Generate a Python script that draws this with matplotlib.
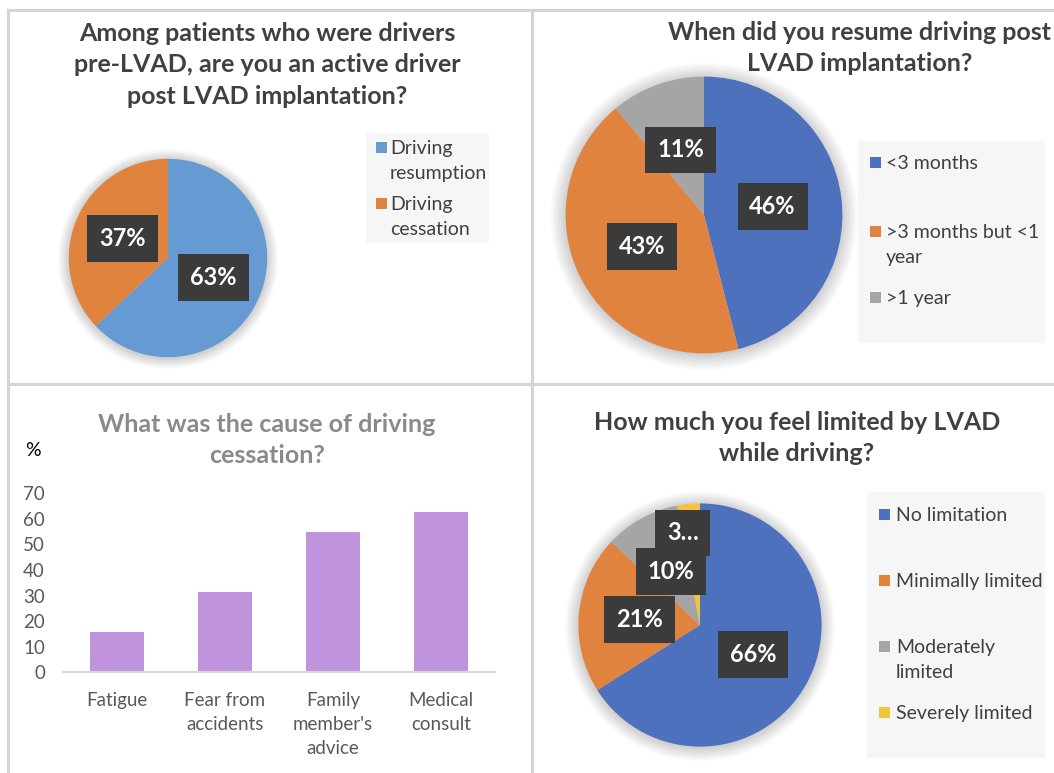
import numpy as np
import matplotlib
matplotlib.use("Agg")
import matplotlib.pyplot as plt
from matplotlib.patches import Rectangle, Circle
from matplotlib.lines import Line2D

plt.rcParams['font.family'] = ['Lato', 'DejaVu Sans']

W, H = 1054, 773

# panel 1: driving after LVAD
drive_labels = ['Driving\nresumption', 'Driving\ncessation']
drive_values = [63, 37]
drive_colors = ['#659AD2', '#E0833F']

# panel 2: when driving resumed
resume_labels = ['<3 months', '>3 months but <1\nyear', '>1 year']
resume_values = [46, 43, 11]
resume_colors = ['#4E71BD', '#E0833F', '#A5A5A5']

# panel 3: cause of cessation (%)
cause_labels = ['Fatigue', 'Fear from\naccidents', "Family\nmember's\nadvice", 'Medical\nconsult']
cause_values = [15.6, 31.3, 54.7, 62.5]

# panel 4: limitation while driving
limit_labels = ['No limitation', 'Minimally limited', 'Moderately\nlimited', 'Severely limited']
limit_values = [66, 21, 10, 3]
limit_colors = ['#4E71BD', '#E0833F', '#A5A5A5', '#F4C33C']

TITLE_C = '#404040'
TEXT_C = '#595959'


def rect(x0, y0, x1, y1):
    return [x0 / W, 1 - y1 / H, (x1 - x0) / W, (y1 - y0) / H]


def fx(x):
    return x / W


def fy(y):
    return 1 - y / H


fig = plt.figure(figsize=(W / 100, H / 100), dpi=100)

# panel frame lines
for (x0, y0, x1, y1) in [(8, 10, 1054, 10), (8, 10, 8, 773), (532, 10, 532, 773), (8, 384, 1054, 384)]:
    fig.add_artist(Line2D([fx(x0), fx(x1)], [fy(y0), fy(y1)], color='#D4D4D4', lw=2.2))


def pie_panel(cx, cy, r, values, colors, small_label=None):
    ax = fig.add_axes(rect(cx - r - 30, cy - r - 30, cx + r + 30, cy + r + 30))
    lim = 1 + 30 / r
    ax.set_xlim(-lim, lim)
    ax.set_ylim(-lim, lim)
    ax.set_aspect('equal')
    ax.axis('off')
    # soft shadow
    for i in range(10):
        ax.add_patch(Circle((0, -0.01), 1 + 0.012 * i, color='#000000', alpha=0.018, lw=0, zorder=0))
    wedges, _, autotexts = ax.pie(values, colors=colors, startangle=90, counterclock=False,
                                  autopct=lambda p: f'{p:.0f}%', pctdistance=0.5,
                                  wedgeprops=dict(linewidth=0),
                                  textprops=dict(color='white', fontsize=17, fontweight='bold'))
    for t in autotexts:
        t.set_bbox(dict(boxstyle='square,pad=0.5', facecolor='#3B3B3B', edgecolor='none'))
    if small_label is not None:
        idx, txt, dist = small_label
        w = wedges[idx]
        ang = np.deg2rad((w.theta1 + w.theta2) / 2)
        autotexts[idx].set_position((dist * np.cos(ang) - 0.07, dist * np.sin(ang)))
        autotexts[idx].set_text(txt)
    return ax


def legend_box(x0, y0, x1, y1, labels, colors, ys, mx, tx):
    fig.add_artist(Rectangle((fx(x0), fy(y1)), (x1 - x0) / W, (y1 - y0) / H,
                             transform=fig.transFigure, facecolor='#F6F6F6', edgecolor='none'))
    for lab, col, y in zip(labels, colors, ys):
        fig.add_artist(Rectangle((fx(mx), fy(y + 5)), 11 / W, 11 / H, transform=fig.transFigure,
                                 facecolor=col, edgecolor='none'))
        fig.text(fx(tx), fy(y - 8), lab, ha='left', va='top', fontsize=14,
                 color=TITLE_C, linespacing=1.6)


# ---- panel 1
fig.text(fx(267), fy(65), 'Among patients who were drivers\npre-LVAD, are you an active driver\npost LVAD implantation?',
         ha='center', va='center', fontsize=18, fontweight='bold', color=TITLE_C, linespacing=1.45)
pie_panel(168, 258, 94, drive_values, drive_colors)
legend_box(366, 133, 489, 243, drive_labels, drive_colors, [148, 204], 376, 390)

# ---- panel 2
fig.text(fx(860), fy(48), 'When did you resume driving post\nLVAD implantation?',
         ha='center', va='center', fontsize=18, fontweight='bold', color=TITLE_C, linespacing=1.45)
pie_panel(704, 215, 143, resume_values, resume_colors)
legend_box(858, 141, 1045, 343, resume_labels, resume_colors, [163, 232, 298], 870, 886)

# ---- panel 3
fig.text(fx(267), fy(440), 'What was the cause of driving\ncessation?',
         ha='center', va='center', fontsize=18, fontweight='bold', color='#8A8A8A', linespacing=1.45)
fig.text(fx(33), fy(450), '%', ha='center', va='center', fontsize=14, color='#000000')
ax3 = fig.add_axes(rect(63, 493.3, 495, 672.3))
ax3.bar(range(len(cause_values)), cause_values, width=0.5, color='#BF94DD')
ax3.set_xlim(-0.5, len(cause_values) - 0.5)
ax3.set_ylim(0, 70)
ax3.set_yticks(range(0, 71, 10))
ax3.set_xticks(range(len(cause_labels)))
ax3.set_xticklabels(cause_labels, linespacing=1.5)
ax3.tick_params(axis='both', length=0, labelsize=13.5, labelcolor=TEXT_C)
ax3.tick_params(axis='y', pad=13)
ax3.tick_params(axis='x', pad=14)
for s in ['top', 'right', 'left']:
    ax3.spines[s].set_visible(False)
ax3.spines['bottom'].set_color('#D9D9D9')
ax3.spines['bottom'].set_linewidth(1.5)

# ---- panel 4
fig.text(fx(797), fy(438), 'How much you feel limited by LVAD\nwhile driving?',
         ha='center', va='center', fontsize=18, fontweight='bold', color=TITLE_C, linespacing=1.45)
pie_panel(700, 625, 122, limit_values, limit_colors, small_label=(3, '3…', 0.76))
legend_box(867, 492, 1045, 758, limit_labels, limit_colors, [515, 581, 647, 713], 879, 896)

fig.savefig('out.png', dpi=100)
